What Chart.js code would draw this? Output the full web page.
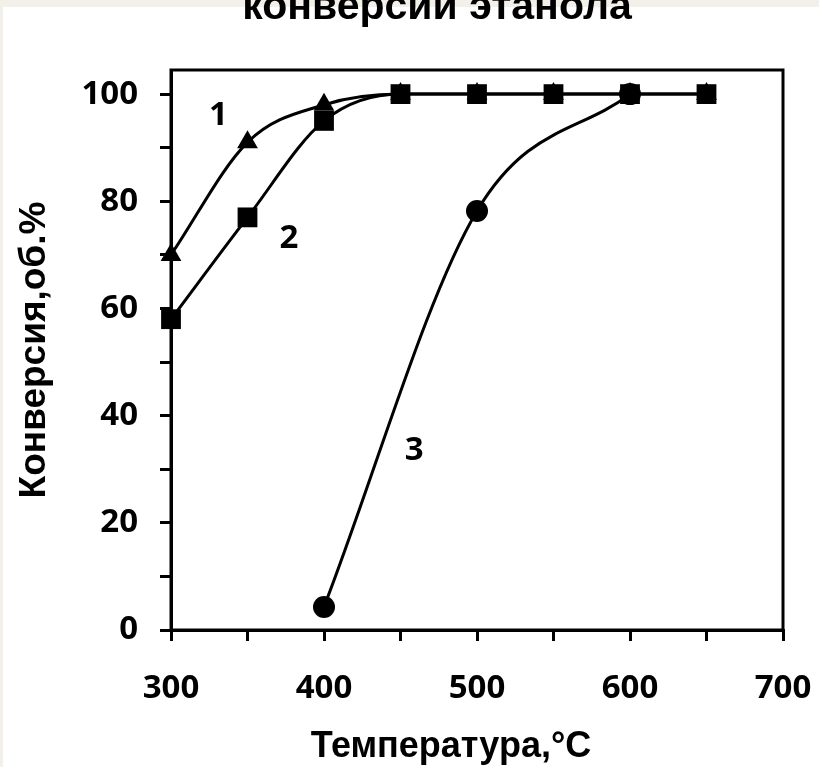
<!DOCTYPE html>
<html>
<head>
<meta charset="utf-8">
<script src="https://cdn.jsdelivr.net/npm/chart.js@4"></script>
<style>
  html, body { margin: 0; padding: 0; background: #f3f0ea; }
  canvas { display: block; }
</style>
</head>
<body>
<canvas id="convChart" width="819" height="767"></canvas>
<script>
// temperature, °C
const temps = [300, 350, 400, 450, 500, 550, 600, 650];
const temps3 = [400, 500, 600];
// ethanol conversion, vol.%
const conv1 = [70, 91, 98, 100, 100, 100, 100, 100];
const conv2 = [58, 77, 95, 100, 100, 100, 100, 100];
const conv3 = [4.3, 78.2, 100];

const curveLabels = ['1', '2', '3'];
// where the curve numbers sit, in data units
const curveLabelX = [331, 377, 459];
const curveLabelY = [96, 73, 33.5];

const titleText = 'конверсии этанола';
const xTitle = 'Температура,°C';
const yTitle = 'Конверсия,об.%';

const tickFont = { family: '"Open Sans", sans-serif', size: 33, weight: 'bold' };

function pts(xs, ys) {
  return xs.map((x, i) => ({ x: x, y: ys[i] }));
}

function series(data, style, radius, order) {
  return {
    data: data,
    borderColor: '#000',
    backgroundColor: '#000',
    borderWidth: 3,
    pointStyle: style,
    pointRadius: radius,
    pointBorderWidth: 0,
    cubicInterpolationMode: 'monotone',
    clip: false,
    order: order
  };
}

const decor = {
  id: 'decor',
  beforeDraw(chart) {
    const ctx = chart.ctx;
    ctx.save();
    ctx.fillStyle = '#f3f0ea';
    ctx.fillRect(0, 0, chart.width, chart.height);
    ctx.fillStyle = '#fff';
    ctx.fillRect(3, 7, chart.width - 3, chart.height - 7);
    ctx.restore();
  },
  afterDatasetsDraw(chart) {
    const ctx = chart.ctx;
    const a = chart.chartArea;
    const xs = chart.scales.x;
    const ys = chart.scales.y;
    ctx.save();
    // frame around the plot
    ctx.strokeStyle = '#000';
    ctx.lineWidth = 3;
    ctx.strokeRect(a.left, a.top, a.right - a.left, a.bottom - a.top);

    ctx.fillStyle = '#000';
    ctx.textAlign = 'center';
    ctx.textBaseline = 'middle';
    ctx.font = 'bold 33px "Open Sans", sans-serif';
    curveLabels.forEach((t, i) => {
      ctx.fillText(t, xs.getPixelForValue(curveLabelX[i]), ys.getPixelForValue(curveLabelY[i]));
    });

    ctx.textBaseline = 'alphabetic';
    ctx.font = 'bold 41px "Liberation Sans", Arial, sans-serif';
    ctx.fillText(titleText, 437, 19);
    ctx.font = 'bold 36px "Liberation Sans", Arial, sans-serif';
    ctx.fillText(xTitle, 451, 757);
    ctx.restore();
  }
};

new Chart(document.getElementById('convChart'), {
  type: 'line',
  data: {
    datasets: [
      series(pts(temps, conv1), 'triangle', 12, 3),
      series(pts(temps, conv2), 'rect', 14, 2),
      series(pts(temps3, conv3), 'circle', 11, 1)
    ]
  },
  options: {
    responsive: false,
    animation: false,
    events: [],
    layout: { padding: { top: 70, right: 36, left: 0, bottom: 0 } },
    plugins: { legend: { display: false }, tooltip: { enabled: false } },
    scales: {
      x: {
        type: 'linear',
        min: 300,
        max: 700,
        afterFit(scale) {
          scale.height = 137;
          scale.paddingLeft = 0;
          scale.paddingRight = 0;
        },
        border: { display: true, color: '#000', width: 3 },
        grid: { drawOnChartArea: false, color: '#000', lineWidth: 3, tickLength: 11 },
        ticks: {
          stepSize: 50,
          padding: 28,
          color: '#000',
          font: tickFont,
          maxRotation: 0,
          autoSkip: false,
          callback: v => (v % 100 === 0 ? String(v) : '')
        }
      },
      y: {
        min: 0,
        max: 104.5,
        afterFit(scale) {
          scale.width = 171;
          scale.paddingTop = 0;
          scale.paddingBottom = 0;
        },
        border: { display: true, color: '#000', width: 3 },
        grid: { drawOnChartArea: false, color: '#000', lineWidth: 3, tickLength: 11 },
        title: {
          display: true,
          text: yTitle,
          color: '#000',
          font: { family: '"Liberation Sans", Arial, sans-serif', size: 37, weight: 'bold' },
          padding: { top: 13, bottom: 0 }
        },
        ticks: {
          stepSize: 10,
          includeBounds: false,
          padding: 22,
          color: '#000',
          font: tickFont,
          autoSkip: false,
          callback: v => (v % 20 === 0 && v <= 100 ? String(v) : '')
        }
      }
    }
  },
  plugins: [decor]
});
</script>
</body>
</html>
